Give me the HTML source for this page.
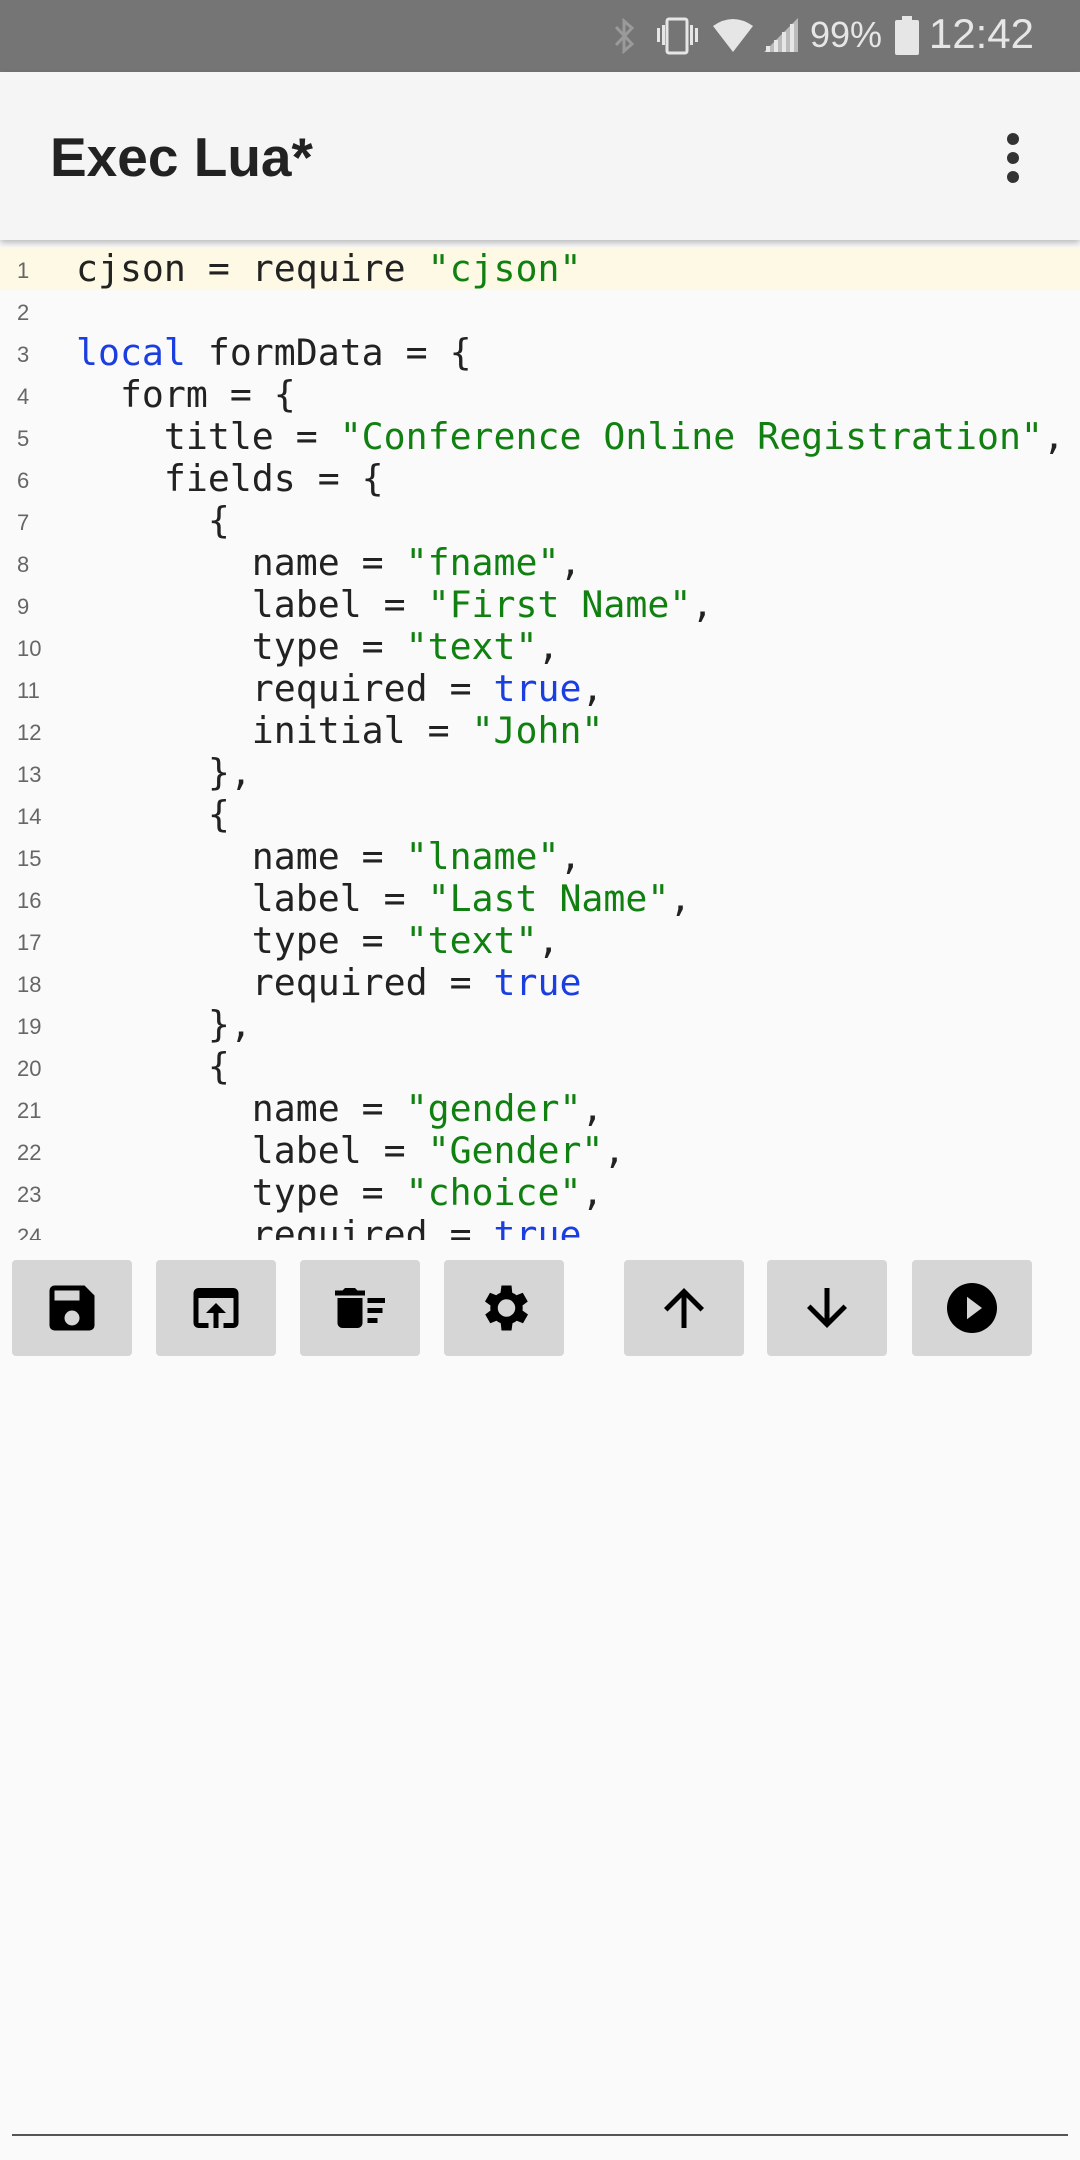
<!DOCTYPE html>
<html><head><meta charset="utf-8"><style>
*{margin:0;padding:0;box-sizing:border-box}
body{width:1080px;height:2160px;background:#fafafa;position:relative;overflow:hidden;font-family:"Liberation Sans",sans-serif}
#sb{position:absolute;left:0;top:0;width:1080px;height:72px;background:#757575}
#sb .t{position:absolute;right:46px;top:10px;font-size:42px;color:#e6e6e6}
#sb .p{position:absolute;left:810px;top:14px;font-size:36px;color:#e6e6e6}
#ab{position:absolute;left:0;top:72px;width:1080px;height:168px;background:#f5f5f5;box-shadow:0 3px 6px rgba(0,0,0,.25)}
#ab .ti{position:absolute;left:50px;top:53px;font-size:55px;font-weight:bold;color:#222}
#ed{position:absolute;left:0;top:248px;width:1080px;height:992px;overflow:hidden}
.l{height:42px;line-height:42px;position:relative;white-space:pre;font-family:"DejaVu Sans Mono","Liberation Mono",monospace;font-size:36.5px;color:#222}
.l .n{position:absolute;left:17px;top:2px;font-family:"Liberation Sans",sans-serif;font-size:22px;color:#666}
.l .c{position:absolute;left:76px;top:0}
.hl{background:#fdf9e4;margin-top:-3px;padding-top:3px;height:45px}
.k{color:#1a3ee0}.s{color:#108010}
.b{position:absolute;top:1260px;width:120px;height:96px;background:#d6d6d6;border-radius:4px}
.b svg{position:absolute;left:30px;top:18px}
#bl{position:absolute;left:12px;top:2134px;width:1056px;height:2px;background:#555}
</style></head><body>
<div id="sb">
<svg style="position:absolute;left:612px;top:18px" width="26" height="36" viewBox="0 0 26 36"><path d="M4 9 L20 26 L12 33 V3 L20 10 L4 27" stroke="#9a9a9a" stroke-width="3" fill="none"/></svg>
<svg style="position:absolute;left:655px;top:16px" width="46" height="40"><rect x="12" y="3" width="20" height="34" rx="2" stroke="#e6e6e6" stroke-width="3" fill="none"/><rect x="2" y="12" width="3" height="14" fill="#e6e6e6"/><rect x="7" y="9" width="3" height="20" fill="#e6e6e6"/><rect x="35" y="9" width="3" height="20" fill="#e6e6e6"/><rect x="40" y="12" width="3" height="14" fill="#e6e6e6"/></svg>
<svg style="position:absolute;left:712px;top:18px" width="42" height="34"><path d="M1 8 Q21 -6 41 8 L21 34 Z" fill="#e6e6e6"/></svg>
<svg style="position:absolute;left:762px;top:16px" width="38" height="38"><path d="M2 36 L36 2 V36 Z" fill="#bbb"/><rect x="4" y="30" width="4" height="6" fill="#e6e6e6"/><rect x="12" y="24" width="4" height="12" fill="#e6e6e6"/><rect x="20" y="16" width="4" height="20" fill="#e6e6e6"/><rect x="28" y="8" width="4" height="28" fill="#e6e6e6"/></svg>
<div class="p">99%</div>
<svg style="position:absolute;left:895px;top:16px" width="24" height="40"><rect x="7" y="0" width="10" height="4" fill="#e6e6e6"/><rect x="0" y="4" width="24" height="35" rx="2" fill="#e6e6e6"/></svg>
<div class="t">12:42</div>
</div>
<div id="ab"><div class="ti">Exec Lua*</div>
<svg style="position:absolute;left:1005px;top:60px" width="16" height="52"><circle cx="8" cy="7" r="6" fill="#333"/><circle cx="8" cy="26" r="6" fill="#333"/><circle cx="8" cy="45" r="6" fill="#333"/></svg></div>
<div id="ed">
<div class="l hl"><span class="n" style="top:5px">1</span><span class="c" style="top:3px">cjson = require <span class="s">"cjson"</span></span></div>
<div class="l"><span class="n">2</span></div>
<div class="l"><span class="n">3</span><span class="c"><span class="k">local</span> formData = {</span></div>
<div class="l"><span class="n">4</span><span class="c">  form = {</span></div>
<div class="l"><span class="n">5</span><span class="c">    title = <span class="s">"Conference Online Registration"</span>,</span></div>
<div class="l"><span class="n">6</span><span class="c">    fields = {</span></div>
<div class="l"><span class="n">7</span><span class="c">      {</span></div>
<div class="l"><span class="n">8</span><span class="c">        name = <span class="s">"fname"</span>,</span></div>
<div class="l"><span class="n">9</span><span class="c">        label = <span class="s">"First Name"</span>,</span></div>
<div class="l"><span class="n">10</span><span class="c">        type = <span class="s">"text"</span>,</span></div>
<div class="l"><span class="n">11</span><span class="c">        required = <span class="k">true</span>,</span></div>
<div class="l"><span class="n">12</span><span class="c">        initial = <span class="s">"John"</span></span></div>
<div class="l"><span class="n">13</span><span class="c">      },</span></div>
<div class="l"><span class="n">14</span><span class="c">      {</span></div>
<div class="l"><span class="n">15</span><span class="c">        name = <span class="s">"lname"</span>,</span></div>
<div class="l"><span class="n">16</span><span class="c">        label = <span class="s">"Last Name"</span>,</span></div>
<div class="l"><span class="n">17</span><span class="c">        type = <span class="s">"text"</span>,</span></div>
<div class="l"><span class="n">18</span><span class="c">        required = <span class="k">true</span></span></div>
<div class="l"><span class="n">19</span><span class="c">      },</span></div>
<div class="l"><span class="n">20</span><span class="c">      {</span></div>
<div class="l"><span class="n">21</span><span class="c">        name = <span class="s">"gender"</span>,</span></div>
<div class="l"><span class="n">22</span><span class="c">        label = <span class="s">"Gender"</span>,</span></div>
<div class="l"><span class="n">23</span><span class="c">        type = <span class="s">"choice"</span>,</span></div>
<div class="l"><span class="n">24</span><span class="c">        required = <span class="k">true</span>,</span></div>
</div>
<div class="b" style="left:12px"><svg width="60" height="60" viewBox="0 0 24 24"><path d="M17 3H5a2 2 0 0 0-2 2v14a2 2 0 0 0 2 2h14a2 2 0 0 0 2-2V7l-4-4zm-5 16a3 3 0 1 1 0-6 3 3 0 0 1 0 6zm3-10H5V5h10v4z"/></svg></div>
<div class="b" style="left:156px"><svg width="60" height="60" viewBox="0 0 24 24"><path d="M19 4H5a2 2 0 0 0-2 2v12a2 2 0 0 0 2 2h4v-2H5V8h14v10h-4v2h4a2 2 0 0 0 2-2V6a2 2 0 0 0-2-2zm-7 6l-4 4h3v6h2v-6h3l-4-4z"/></svg></div>
<div class="b" style="left:300px"><svg width="60" height="60" viewBox="0 0 24 24"><path d="M15 16h4v2h-4zm0-8h7v2h-7zm0 4h6v2h-6zM3 18c0 1.1.9 2 2 2h6c1.1 0 2-.9 2-2V8H3v10zM14 5h-3l-1-1H6L5 5H2v2h12z"/></svg></div>
<div class="b" style="left:444px"><svg width="60" height="60" viewBox="0 0 24 24"><path d="M19.4 13a7.5 7.5 0 0 0 0-2l2.1-1.6-2-3.5-2.5 1a7 7 0 0 0-1.7-1L15 3h-4l-.4 2.9a7 7 0 0 0-1.7 1l-2.5-1-2 3.5L6.6 11a7.5 7.5 0 0 0 0 2l-2.1 1.6 2 3.5 2.5-1a7 7 0 0 0 1.7 1L11 21h4l.4-2.9a7 7 0 0 0 1.7-1l2.5 1 2-3.5L19.4 13zM13 15.5a3.5 3.5 0 1 1 0-7 3.5 3.5 0 0 1 0 7z"/></svg></div>
<div class="b" style="left:624px"><svg width="60" height="60" viewBox="0 0 24 24"><path d="M4 12l1.4 1.4L11 7.8V20h2V7.8l5.6 5.6L20 12l-8-8z"/></svg></div>
<div class="b" style="left:767px"><svg width="60" height="60" viewBox="0 0 24 24"><path d="M20 12l-1.4-1.4L13 16.2V4h-2v12.2l-5.6-5.6L4 12l8 8z"/></svg></div>
<div class="b" style="left:912px"><svg width="60" height="60" viewBox="0 0 24 24"><path d="M12 2a10 10 0 1 0 0 20 10 10 0 0 0 0-20zm-2 14.5v-9l6 4.5-6 4.5z"/></svg></div>
<div id="bl"></div>
</body></html>
